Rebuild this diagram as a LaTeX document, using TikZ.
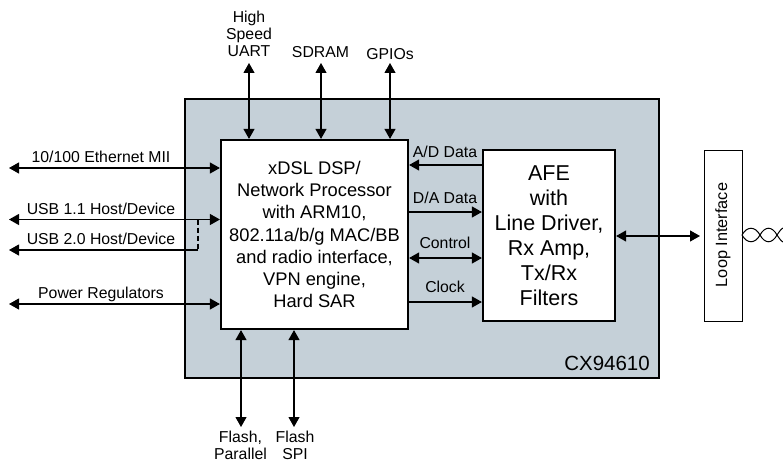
\documentclass[tikz,border=0pt]{standalone}
\usepackage{fontspec}
\setmainfont{Liberation Sans}
\usetikzlibrary{arrows.meta, positioning}
\definecolor{chipgray}{RGB}{197,208,216}
\begin{document}
\begin{tikzpicture}[x=1pt, y=-1pt]
    \tikzstyle{block} = [shape=rectangle, draw=black, fill=white, line width=2.2pt, inner sep=0pt, align=center, font=\fontsize{18.3}{22.1}\selectfont];
    \tikzstyle{label} = [inner sep=0pt, align=center, font=\fontsize{15.8}{17.2}\selectfont];
    \tikzstyle{both} = [{Triangle[length=10pt,width=11pt]}-{Triangle[length=10pt,width=11pt]}, line width=1.1pt];
    \tikzstyle{single} = [-{Triangle[length=10pt,width=11pt]}, line width=1.1pt];

    \useasboundingbox (0,0) rectangle (783,465);

    \node[block, fill=chipgray, minimum width=474pt, minimum height=279pt](CHIP) at (422,238.5) {};
    \node[block, minimum width=187pt, minimum height=189pt](DSP) at (314.5,234.5) {xDSL DSP/\\Network Processor\\with ARM10,\\802.11a/b/g MAC/BB\\and radio interface,\\VPN engine,\\Hard SAR};
    \node[block, font=\fontsize{21.5}{25}\selectfont, minimum width=132pt, minimum height=171pt](AFE) at (549,235.5) {AFE\\with\\Line Driver,\\Rx Amp,\\Tx/Rx\\Filters};
    \node[draw=black, fill=white, line width=0.8pt, minimum width=38pt, minimum height=171pt, inner sep=0pt](LOOP) at (723,235.5) {};
    \node[label, rotate=90, font=\fontsize{16.3}{18}\selectfont](LOOPTXT) at (723,235) {Loop Interface};
    \node[label, anchor=south east, font=\fontsize{20.5}{22}\selectfont](PART) at (650,371) {CX94610};

    % top and bottom signals
    \node[label, anchor=south](UART) at (249,57) {High\\Speed\\UART};
    \node[label, anchor=south](SDRAM) at (320.5,58) {SDRAM};
    \node[label, anchor=south](GPIO) at (390,60) {GPIOs};
    \node[label, anchor=north](PAR) at (240.5,431) {Flash,\\Parallel};
    \node[label, anchor=north](SPI) at (295,431) {Flash\\SPI};

    \coordinate (UARTEND) at (249,63);
    \coordinate (SDRAMEND) at (321,63);
    \coordinate (GPIOEND) at (390,63);
    \coordinate (PAREND) at (241,427);
    \coordinate (SPIEND) at (294,427);

    \draw[both] (UARTEND) -- (UARTEND |- DSP.north);
    \draw[both] (SDRAMEND) -- (SDRAMEND |- DSP.north);
    \draw[both] (GPIOEND) -- (GPIOEND |- DSP.north);
    \draw[both] (PAREND) -- (PAREND |- DSP.south);
    \draw[both] (SPIEND) -- (SPIEND |- DSP.south);

    % left signals
    \coordinate (ETH) at (9,168);
    \coordinate (USBA) at (9,219.5);
    \coordinate (USBB) at (9,250);
    \coordinate (PWR) at (9,304);
    \coordinate (USBJOIN) at (198,219.5);
    \coordinate (USBCORNER) at (198,250);

    \draw[both] (ETH) -- (ETH -| DSP.west);
    \draw[both] (USBA) -- (USBA -| DSP.west);
    \draw[single] (USBCORNER) -- (USBB);
    \draw[line width=1.1pt, dash pattern=on 5pt off 3pt] (USBJOIN) -- (USBCORNER);
    \draw[both] (PWR) -- (PWR -| DSP.west);

    \node[label, anchor=south](ETHTXT) at (101,163) {10/100 Ethernet MII};
    \node[label, anchor=south](USBATXT) at (101,215) {USB 1.1 Host/Device};
    \node[label, anchor=south](USBBTXT) at (101,245) {USB 2.0 Host/Device};
    \node[label, anchor=south](PWRTXT) at (101,302) {Power Regulators};

    % dsp to afe
    \coordinate (AD) at (0,165);
    \coordinate (DA) at (0,212);
    \coordinate (CTRL) at (0,258);
    \coordinate (CLK) at (0,302);

    \draw[single] (AD -| AFE.west) -- (AD -| DSP.east);
    \draw[single] (DA -| DSP.east) -- (DA -| AFE.west);
    \draw[both] (CTRL -| DSP.east) -- (CTRL -| AFE.west);
    \draw[single] (CLK -| DSP.east) -- (CLK -| AFE.west);

    \node[label, anchor=south](ADTXT) at (445,158) {A/D Data};
    \node[label, anchor=south](DATXT) at (445,204) {D/A Data};
    \node[label, anchor=south](CTRLTXT) at (445,249) {Control};
    \node[label, anchor=south](CLKTXT) at (445,293) {Clock};

    % line side
    \coordinate (LOOPEND) at (700,236);
    \draw[both] (AFE.east |- LOOPEND) -- (LOOPEND);
    \coordinate (PAIR) at (742,235);
    \draw[line width=1pt] (PAIR)
        .. controls (747,226) and (755,226) .. (760,235)
        .. controls (765,244) and (772,244) .. (777,235)
        .. controls (779,232) and (781,229) .. (783,228);
    \draw[line width=1pt] (PAIR)
        .. controls (747,244) and (755,244) .. (760,235)
        .. controls (765,226) and (772,226) .. (777,235)
        .. controls (779,238) and (781,241) .. (783,242);
\end{tikzpicture}
\end{document}
